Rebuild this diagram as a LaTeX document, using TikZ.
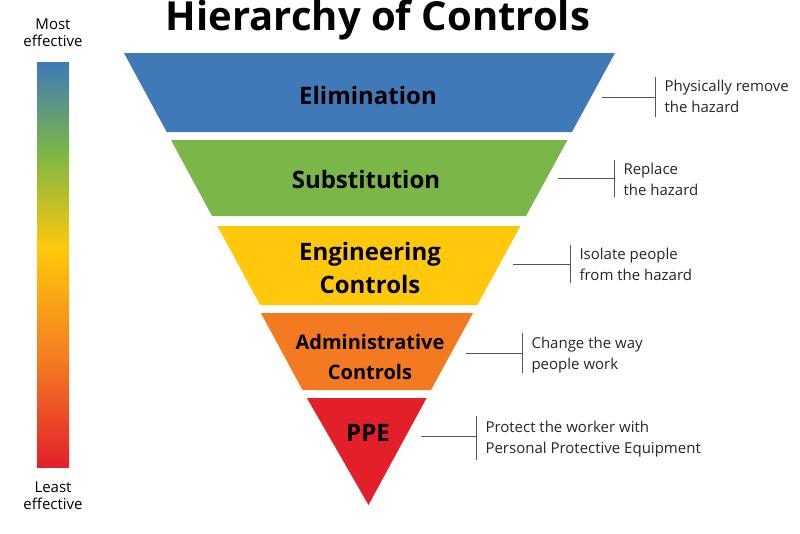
\documentclass[tikz,border=0pt]{standalone}
\usepackage{fontspec}
\setmainfont{Open Sans}
\definecolor{cblue}{HTML}{4079B8}
\definecolor{cgreen}{HTML}{7AB648}
\definecolor{cyellow}{HTML}{FFC80A}
\definecolor{corange}{HTML}{F47A22}
\definecolor{cred}{HTML}{E3202A}
\definecolor{cline}{HTML}{555555}
\pgfdeclareverticalshading{effect}{100bp}{color(0bp)=(cred); color(25bp)=(cred); color(38bp)=(corange); color(52bp)=(cyellow); color(64bp)=(cgreen); color(75bp)=(cblue); color(100bp)=(cblue)}
\tikzset{
 band/.style={draw=none},
 blabel/.style={font=\bfseries\fontsize{24}{27}\selectfont, align=center, text=black},
 ctext/.style={font=\fontsize{15}{21}\selectfont, align=left, anchor=west, text=black!85},
 cl/.style={draw=cline, line width=0.7pt},
 side/.style={font=\fontsize{15}{17}\selectfont, align=center},
}
\begin{document}
\begin{tikzpicture}[x=1pt,y=-1pt]
\useasboundingbox (0,0) rectangle (800,533);
\node[font=\bfseries\fontsize{40}{44}\selectfont] (title) at (378,20) {Hierarchy of Controls};
% gradient bar
\shade[shading=effect] (37,62) rectangle (69,467);
\node[side] (most) at (53,33) {Most\\effective};
\node[side] (least) at (53,496) {Least\\effective};
% triangle geometry: left x = 124+0.54(y-53), right x = 615-0.546(y-53)
\fill[cblue]   (124,53) -- (615,53) -- (571.9,132) -- (166.7,132) -- cycle;
\fill[cgreen]  (171.0,140) -- (567.5,140) -- (526.0,216) -- (212.0,216) -- cycle;
\fill[cyellow] (217.4,226) -- (520.5,226) -- (477.4,305) -- (260.1,305) -- cycle;
\fill[corange] (260.9,313) -- (473.0,313) -- (431.0,390) -- (302.5,390) -- cycle;
\fill[cred]    (306.9,398) -- (426.6,398) -- (368.5,505) -- cycle;
\node[blabel] (elim) at (368,95) {Elimination};
\node[blabel] (subs) at (366,179) {Substitution};
\node[blabel, font=\bfseries\fontsize{24}{33}\selectfont] (eng) at (370,268) {Engineering\\Controls};
\node[blabel, font=\bfseries\fontsize{20}{30}\selectfont] (adm) at (370,357) {Administrative\\Controls};
\node[blabel] (ppe) at (368,433) {PPE};
% callouts
\node[ctext] (t1) at (661,96) {Physically remove\\the hazard};
\node[ctext] (t2) at (620,179) {Replace\\the hazard};
\node[ctext] (t3) at (576,264) {Isolate people\\from the hazard};
\node[ctext] (t4) at (528,355) {Change the way\\people work};
\node[ctext] (t5) at (482,439) {Protect the worker with\\Personal Protective Equipment};
\coordinate (a1) at (602,97);  \coordinate (b1) at (655,97);
\coordinate (a2) at (558,178); \coordinate (b2) at (614,178);
\coordinate (a3) at (513,264); \coordinate (b3) at (570,264);
\coordinate (a4) at (466,353); \coordinate (b4) at (522,353);
\coordinate (a5) at (421,436); \coordinate (b5) at (476,436);
\draw[cl] (a1) -- (b1); \draw[cl] (655,77) -- (655,117);
\draw[cl] (a2) -- (b2); \draw[cl] (614,160) -- (614,197);
\draw[cl] (a3) -- (b3); \draw[cl] (570,245) -- (570,283);
\draw[cl] (a4) -- (b4); \draw[cl] (522,333) -- (522,373);
\draw[cl] (a5) -- (b5); \draw[cl] (476,416) -- (476,460);
\end{tikzpicture}
\end{document}
